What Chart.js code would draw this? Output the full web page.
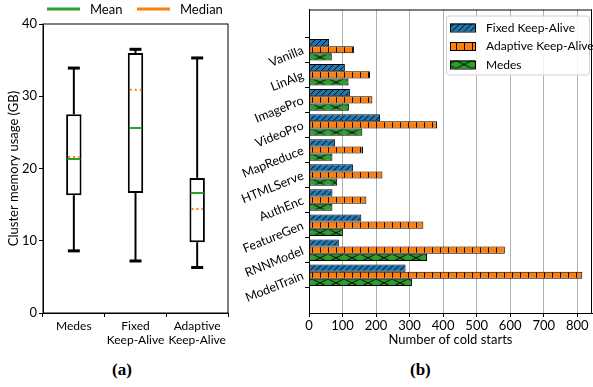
<!DOCTYPE html>
<html>
<head>
<meta charset="utf-8">
<script src="https://cdn.jsdelivr.net/npm/chart.js@4.4.0/dist/chart.umd.min.js"></script>
<style>
body { margin: 0; background: #fff; width: 593px; height: 387px; overflow: hidden; position: relative; }
canvas { position: absolute; top: 0; }
#boxChart { left: 0; }
#barChart { left: 232px; }
.sub { position: absolute; top: 360px; font: bold 17px "Liberation Serif", serif; color: #000; }
</style>
</head>
<body>
<canvas id="boxChart" width="232" height="358"></canvas>
<canvas id="barChart" width="361" height="358"></canvas>
<div class="sub" style="left:112px">(a)</div>
<div class="sub" style="left:410px">(b)</div>
<script>
// (a) memory usage box plot
boxLabels = ["Medes", ["Fixed", "Keep-Alive"], ["Adaptive", "Keep-Alive"]]
whiskerLow = [8.6, 7.2, 6.3]
q1 = [16.3, 16.6, 9.8]
medianVals = [21.6, 30.9, 14.4]
meanVals = [21.3, 25.6, 16.6]
q3 = [27.5, 36.0, 18.7]
whiskerHigh = [33.9, 36.5, 35.3]

// (b) cold starts per app
apps = ["Vanilla", "LinAlg", "ImagePro", "VideoPro", "MapReduce", "HTMLServe", "AuthEnc", "FeatureGen", "RNNModel", "ModelTrain"]
fixedKA = [60, 107, 122, 212, 78, 131, 70, 156, 89, 288]
adaptiveKA = [134, 182, 189, 382, 161, 219, 171, 341, 584, 815]
medes = [68, 118, 119, 159, 70, 84, 70, 101, 352, 307]
coldTicks = [0, 100, 200, 300, 400, 500, 600, 700, 800]

Chart.defaults.font.family = 'Lato'
Chart.defaults.font.size = 13
Chart.defaults.color = '#000'
Chart.defaults.animation = false

function line(ctx, x1, y1, x2, y2) {
    ctx.beginPath(); ctx.moveTo(x1, y1); ctx.lineTo(x2, y2); ctx.stroke();
}

const boxExtras = {
    id: 'boxExtras',
    beforeDatasetsDraw(chart) {
        const { ctx, scales: { x, y } } = chart;
        ctx.save();
        ctx.strokeStyle = 'black';
        boxLabels.forEach((_, i) => {
            const cx = x.getPixelForValue(i);
            ctx.lineWidth = 2;
            line(ctx, cx, y.getPixelForValue(whiskerLow[i]), cx, y.getPixelForValue(q1[i]));
            line(ctx, cx, y.getPixelForValue(q3[i]), cx, y.getPixelForValue(whiskerHigh[i]));
            ctx.lineWidth = 3;
            line(ctx, cx - 6, y.getPixelForValue(whiskerLow[i]), cx + 6, y.getPixelForValue(whiskerLow[i]));
            line(ctx, cx - 6, y.getPixelForValue(whiskerHigh[i]), cx + 6, y.getPixelForValue(whiskerHigh[i]));
        });
        ctx.restore();
    },
    afterDatasetsDraw(chart) {
        const { ctx, scales: { x, y }, chartArea: a } = chart;
        const boxes = chart.getDatasetMeta(0).data;
        ctx.save();
        ctx.strokeStyle = '#ff7f0e';
        ctx.lineWidth = 2;
        ctx.setLineDash([2, 3]);
        medianVals.forEach((v, i) => {
            const cx = x.getPixelForValue(i), hw = boxes[i].width / 2 - 2;
            line(ctx, cx - hw, y.getPixelForValue(v), cx + hw, y.getPixelForValue(v));
        });
        ctx.setLineDash([]);
        ctx.strokeStyle = 'black';
        ctx.lineWidth = 1;
        ctx.strokeRect(a.left, a.top, a.right - a.left, a.bottom - a.top);
        // legend above the plot
        ctx.font = '13px Lato';
        ctx.textBaseline = 'middle';
        ctx.lineWidth = 3;
        const ly = a.top - 15;
        [1, 2].forEach((di, k) => {
            const ds = chart.data.datasets[di];
            const lx = a.left + 4 + k * 90;
            ctx.strokeStyle = ds.borderColor;
            line(ctx, lx, ly, lx + 33, ly);
            ctx.fillStyle = 'black';
            ctx.fillText(ds.label, lx + 43, ly + 0.5);
        });
        ctx.restore();
    }
};

new Chart(document.getElementById('boxChart'), {
    type: 'bar',
    data: {
        labels: boxLabels,
        datasets: [
            {
                label: 'box',
                data: q1.map((v, i) => [v, q3[i]]),
                backgroundColor: 'white',
                borderColor: 'black',
                borderWidth: 2,
                borderSkipped: false,
                barPercentage: 0.25,
                categoryPercentage: 1,
                order: 2
            },
            {
                type: 'line',
                label: 'Mean',
                data: meanVals,
                showLine: false,
                pointStyle: 'line',
                pointRadius: 6.5,
                pointBorderWidth: 2,
                pointBorderColor: '#2ca02c',
                borderColor: '#2ca02c',
                order: 1
            },
            {
                type: 'line',
                label: 'Median',
                data: medianVals,
                showLine: false,
                pointStyle: 'line',
                pointRadius: 0,
                pointBorderWidth: 2,
                pointBorderColor: '#ff7f0e',
                borderColor: '#ff7f0e',
                order: 0
            }
        ]
    },
    options: {
        responsive: false,
        layout: { autoPadding: false, padding: { left: 0, right: 4, top: 24, bottom: 0 } },
        plugins: {
            tooltip: { enabled: false },
            legend: { display: false }
        },
        scales: {
            x: {
                grid: { drawOnChartArea: false, tickLength: 4, color: 'black' },
                border: { color: 'black' },
                ticks: { padding: 2, maxRotation: 0, minRotation: 0, autoSkip: false, font: { size: 12, lineHeight: 1.15 } },
                afterFit: s => { s.height = 45; }
            },
            y: {
                min: 0,
                max: 40,
                ticks: { stepSize: 10, padding: 2 },
                grid: { drawOnChartArea: false, tickLength: 4, color: 'black' },
                border: { color: 'black' },
                title: { display: true, text: 'Cluster memory usage (GB)', padding: { top: 6, bottom: 0 } },
                afterFit: s => { s.width = 43; }
            }
        }
    },
    plugins: [boxExtras]
});

// hatch tiles
function makeTile(bg, w, h, draw) {
    const c = document.createElement('canvas');
    c.width = w; c.height = h;
    const g = c.getContext('2d');
    g.fillStyle = bg;
    g.fillRect(0, 0, w, h);
    g.strokeStyle = 'black';
    g.lineWidth = 1;
    g.beginPath();
    draw(g, w, h);
    g.stroke();
    return c;
}

const hatch = {
    fixed: makeTile('#1f77b4', 6, 6, (g, w, h) => {
        g.moveTo(0, h); g.lineTo(w, 0);
        g.moveTo(-1, 1); g.lineTo(1, -1);
        g.moveTo(w - 1, h + 1); g.lineTo(w + 1, h - 1);
    }),
    adaptive: makeTile('#ff7f0e', 8, 8, (g, w, h) => {
        g.moveTo(0.5, 0); g.lineTo(0.5, h);
    }),
    medes: makeTile('#2ca02c', 16, 8, (g, w, h) => {
        g.moveTo(0, 0); g.lineTo(w, h);
        g.moveTo(0, h); g.lineTo(w, 0);
    })
};

function barFill(c, tile, color) {
    const y = c.chart.scales.y;
    if (c.type !== 'data' || !y) return color;
    const step = Math.abs(y.getPixelForValue(1) - y.getPixelForValue(0));
    const chunk = step * 0.86 / 3;
    const top = y.getPixelForValue(c.dataIndex) - step * 0.86 / 2 + chunk * c.datasetIndex;
    const p = c.chart.ctx.createPattern(tile, 'repeat');
    p.setTransform(new DOMMatrix().translate(0, top));
    return p;
}

function barSet(label, vals, tile, color) {
    return {
        label: label,
        data: vals.map((v, i) => ({ x: v, y: i })),
        backgroundColor: c => barFill(c, tile, color),
        legendTile: tile,
        borderColor: 'black',
        borderWidth: 1,
        borderSkipped: false,
        categoryPercentage: 0.86,
        barPercentage: 1
    };
}

const barExtras = {
    id: 'barExtras',
    afterDraw(chart) {
        const { ctx, chartArea: a } = chart;
        ctx.save();
        ctx.strokeStyle = 'black';
        ctx.lineWidth = 1;
        line(ctx, a.left, a.top + 0.5, a.right, a.top + 0.5);
        line(ctx, a.right - 0.5, a.top, a.right - 0.5, a.bottom);
        // legend box
        const bx = a.right - 146, by = a.top + 6, bw = 143, bh = 59;
        ctx.fillStyle = 'rgba(255,255,255,0.85)';
        ctx.strokeStyle = '#d0d0d0';
        ctx.beginPath();
        ctx.roundRect(bx + 0.5, by + 0.5, bw, bh, 3);
        ctx.fill();
        ctx.stroke();
        ctx.font = '12px Lato';
        ctx.textBaseline = 'middle';
        chart.data.datasets.forEach((ds, i) => {
            const ry = by + 8 + i * 18.5;
            const p = ctx.createPattern(ds.legendTile, 'repeat');
            p.setTransform(new DOMMatrix().translate(0, ry));
            ctx.fillStyle = p;
            ctx.fillRect(bx + 4, ry, 25, 8);
            ctx.strokeStyle = 'black';
            ctx.strokeRect(bx + 4.5, ry + 0.5, 25, 8);
            ctx.fillStyle = 'black';
            ctx.fillText(ds.label, bx + 40, ry + 4.5);
        });
        ctx.restore();
    }
};

new Chart(document.getElementById('barChart'), {
    type: 'bar',
    data: {
        datasets: [
            barSet('Fixed Keep-Alive', fixedKA, hatch.fixed, '#1f77b4'),
            barSet('Adaptive Keep-Alive', adaptiveKA, hatch.adaptive, '#ff7f0e'),
            barSet('Medes', medes, hatch.medes, '#2ca02c')
        ]
    },
    options: {
        responsive: false,
        indexAxis: 'y',
        layout: { autoPadding: false, padding: { left: 0, right: 1, top: 4, bottom: 0 } },
        plugins: { legend: { display: false }, tooltip: { enabled: false } },
        scales: {
            x: {
                type: 'linear',
                min: 0,
                max: 844,
                z: 1,
                afterBuildTicks: s => { s.ticks = coldTicks.map(v => ({ value: v })); },
                ticks: { padding: 1 },
                grid: { color: '#b0b0b0', tickColor: 'black', tickLength: 4 },
                border: { color: 'black' },
                title: { display: true, text: 'Number of cold starts', padding: { top: 0, bottom: 10 } },
                afterFit: s => { s.height = 45; }
            },
            y: {
                type: 'linear',
                reverse: true,
                min: -1,
                max: 9.9,
                afterBuildTicks: s => { s.ticks = apps.map((_, i) => ({ value: i })); },
                ticks: { callback: v => apps[v], minRotation: 22, maxRotation: 22, padding: 2, autoSkip: false, font: { size: 12.5 } },
                grid: { drawOnChartArea: false, tickColor: 'black', tickLength: 4 },
                border: { color: 'black' },
                afterFit: s => { s.width = 77; }
            }
        }
    },
    plugins: [barExtras]
});
</script>
</body>
</html>
